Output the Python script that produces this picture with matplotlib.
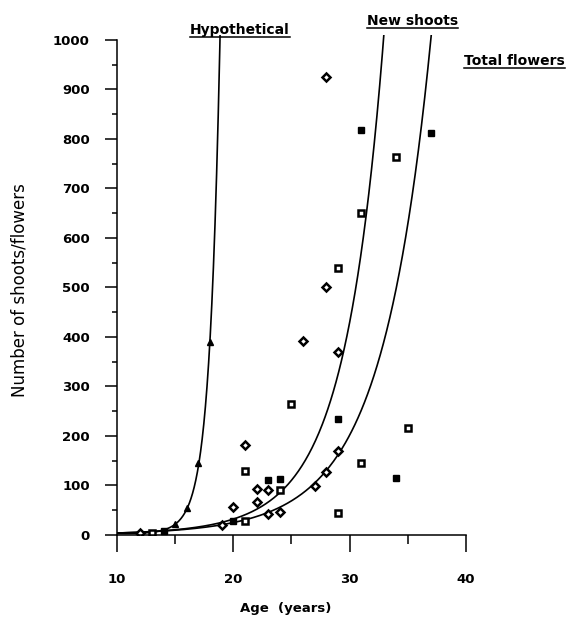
import numpy as np
import matplotlib
matplotlib.use('Agg')
import matplotlib.pyplot as plt
from matplotlib.lines import Line2D

# data
tri_x = [15, 16, 17, 18]
tri_y = [22, 54, 145, 390]

diamond_x = [12, 19, 20, 21, 22, 22, 23, 23, 24, 26, 27, 28, 28, 28, 29, 29]
diamond_y = [5, 20, 57, 182, 66, 93, 43, 90, 47, 392, 98, 127, 500, 925, 170, 370]

sq_open_x = [13, 21, 21, 24, 25, 29, 29, 31, 31, 34, 35]
sq_open_y = [5, 29, 130, 91, 265, 45, 539, 650, 145, 763, 216]

sq_fill_x = [14, 20, 23, 24, 29, 31, 34, 37]
sq_fill_y = [8, 29, 112, 114, 234, 818, 115, 811]

# points
hyp_cx = [10, 12, 14, 15, 16, 17, 18, 18.86]
hyp_cy = [3, 4, 9, 22, 54, 145, 390, 1000]
new_cx = [10, 20, 29.03, 29.75, 32.3, 33.1]
new_cy = [4, 30, 354, 421, 818, 1000]
tot_cx = [10, 20, 29.17, 31.75, 35.48, 36.9]
tot_cy = [4, 25, 172, 293, 690, 1000]

plt.rcParams['font.family'] = 'DejaVu Sans'

fig = plt.figure(figsize=(5.71, 6.19), dpi=100)
ax = fig.add_axes([0.2049, 0.1357, 0.6112, 0.8078])


def fit_curve(cx, cy, deg, x_end):
    coef = np.polyfit(cx, np.log(cy), deg)
    xs = np.linspace(10, x_end, 400)
    return xs, np.exp(np.polyval(coef, xs))


for cx, cy, deg in [(hyp_cx, hyp_cy, 3), (new_cx, new_cy, 2), (tot_cx, tot_cy, 2)]:
    xs, ys = fit_curve(cx, cy, deg, cx[-1] + 0.3)
    ax.plot(xs, ys, color='black', lw=1.2)

ax.plot(tri_x, tri_y, '^', color='black', ms=4)
ax.plot(diamond_x, diamond_y, 'D', mfc='white', mec='black', mew=1.8, ms=4)
ax.plot(sq_open_x, sq_open_y, 's', mfc='white', mec='black', mew=1.8, ms=4)
ax.plot(sq_fill_x, sq_fill_y, 's', color='black', ms=4.2)

ax.set_xlim(10, 40)
ax.set_ylim(0, 1010)
ax.spines['top'].set_visible(False)
ax.spines['right'].set_visible(False)
ax.spines['left'].set_bounds(0, 1000)
for s in ['left', 'bottom']:
    ax.spines[s].set_linewidth(1.1)

ax.set_xticks([10, 20, 30, 40])
ax.set_xticks([15, 25, 35], minor=True)
ax.set_yticks(range(0, 1001, 100))
ax.set_yticks(range(50, 1000, 100), minor=True)
ax.tick_params(axis='x', which='major', length=12, width=1.1, pad=15, labelsize=9.5)
ax.tick_params(axis='x', which='minor', length=6.5, width=1.1)
ax.tick_params(axis='y', which='major', length=8.6, width=1.1, pad=11, labelsize=9.5)
ax.tick_params(axis='y', which='minor', length=3.6, width=1.1)
for lab in ax.get_xticklabels() + ax.get_yticklabels():
    lab.set_fontweight('bold')

ax.set_xlabel('Age  (years)', fontsize=9.5, fontweight='bold')
ax.xaxis.set_label_coords(0.484, -0.134)
ax.set_ylabel('Number of shoots/flowers', fontsize=12)
ax.yaxis.set_label_coords(-0.255, 0.49)

labels = [('Hypothetical', 20.58, 1012), ('New shoots', 35.37, 1030), ('Total flowers', 44.15, 949)]
texts = []
for txt, x, y in labels:
    t = ax.text(x, y, txt, ha='center', va='baseline', fontsize=10,
                fontweight='bold', clip_on=False)
    texts.append(t)

fig.canvas.draw()
inv = fig.transFigure.inverted()
for t in texts:
    bb = t.get_window_extent()
    base = ax.transData.transform(t.get_position())[1]
    (x0, y0), (x1, y1) = inv.transform([(bb.x0, base - 3), (bb.x1, base - 3)])
    fig.add_artist(Line2D([x0, x1], [y0, y1], transform=fig.transFigure,
                          color='black', lw=1.1))

fig.savefig('out.png', dpi=100)
